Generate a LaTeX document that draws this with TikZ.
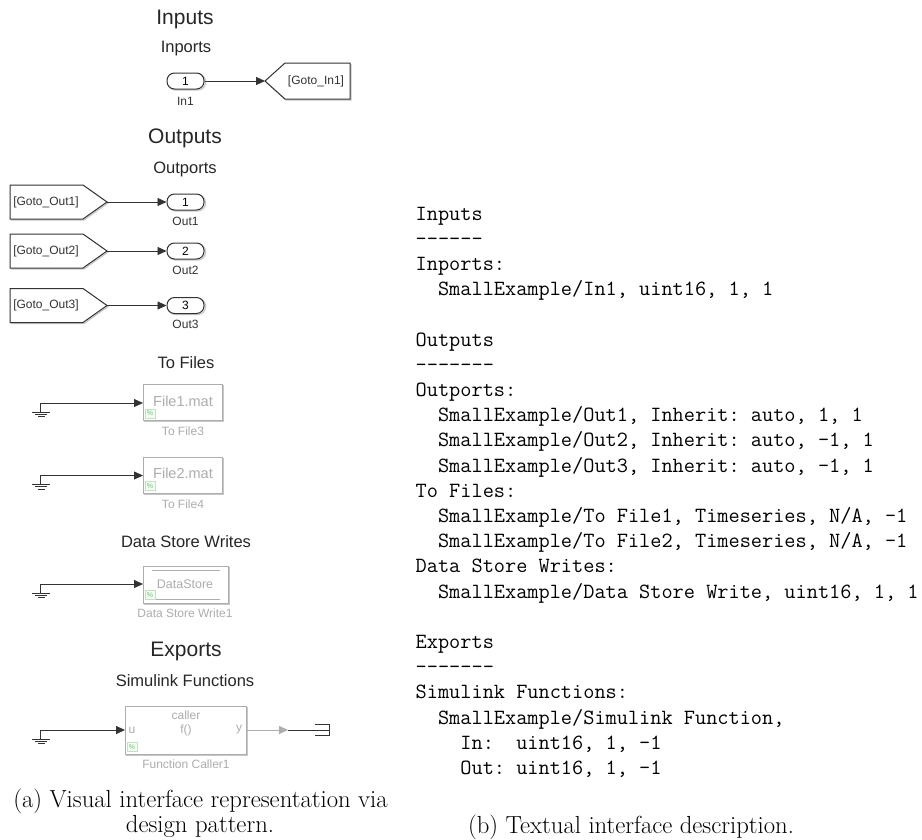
\documentclass[tikz,border=0pt]{standalone}
\usepackage{fontspec}
\setmainfont{Latin Modern Roman}
\newfontfamily\arialf{Liberation Sans}
\setmonofont{Latin Modern Mono}
\definecolor{fade}{gray}{0.68}
\definecolor{blk}{gray}{0.2}
\definecolor{shad}{gray}{0.78}
\usetikzlibrary{arrows.meta}
\tikzset{
 x=1pt,y=-1pt,
 title/.style={font=\arialf\fontsize{21}{21}\selectfont,text=black!85,inner sep=0},
 sub/.style={font=\arialf\fontsize{16.5}{17}\selectfont,text=black!85,inner sep=0},
 lab/.style={font=\arialf\fontsize{12}{12}\selectfont,text=blk,inner sep=0},
 flab/.style={font=\arialf\fontsize{12}{12}\selectfont,text=fade,inner sep=0},
 ftxt/.style={font=\arialf\fontsize{14.5}{15}\selectfont,text=fade,inner sep=0},
 fs/.style={font=\arialf\fontsize{12.5}{12.5}\selectfont,text=fade,inner sep=0},
 port/.style={draw=blk,line width=1pt,rounded corners=7.5pt,minimum width=37pt,minimum height=16pt,inner sep=0,fill=white,font=\arialf\fontsize{12}{12}\selectfont},
 fbox/.style={draw=fade,line width=1.1pt,fill=white,inner sep=0,anchor=north west},
 wire/.style={draw=blk,line width=.8pt},
 arr/.style={wire,-{Triangle[length=9pt,width=8pt]}},
 gotoline/.style={draw=blk,line width=1pt,line join=miter,fill=white},
 shadowline/.style={draw=shad,line width=1.2pt},
 code/.style={font=\ttfamily\fontsize{21.7}{21.7}\selectfont,anchor=base west,inner sep=0},
 capt/.style={font=\fontsize{24.7}{25}\selectfont,inner sep=0,anchor=base},
 pct/.style={draw=green!30!gray!35,fill=green!5,inner sep=.5pt,font=\arialf\fontsize{7}{7}\selectfont,text=green!30!gray!80,minimum width=10pt,minimum height=9pt}
}
\newcommand{\gnd}[2]{%
 \coordinate (#1) at (40,#2);
 \draw[wire] (40,#2) -- ++(0,9);
 \draw[draw=blk,line width=.8pt] (32,#2+9) -- ++(18,0) (35,#2+11.3) -- ++(12,0) (38,#2+13.7) -- ++(7,0);}
\begin{document}
\begin{tikzpicture}
\useasboundingbox[fill=white] (0,0) rectangle (922,839);
\node[title] at (185,19) {Inputs};
\node[sub] at (186,49) {Inports};
\draw[shadowline,rounded corners=7.5pt] (168,74) rectangle (205.5,90);
\node[port] (in1) at (185.5,81) {1};
\node[lab] at (185.5,101) {In1};
\draw[shadowline] (266,82) -- (286,100) -- (351,100) -- (351,64);
\draw[gotoline] (265,81) -- (285,63) -- (350,63) -- (350,99) -- (285,99) -- cycle;
\coordinate (gi) at (265,81);
\node[lab] (gitxt) at (316,81) {[Goto\_In1]};
\draw[arr] (in1) -- (gi);

\node[title] at (185,138) {Outputs};
\node[sub] at (185,169) {Outports};
\foreach \n/\y/\pl in {1/202/221,2/251/270,3/305.5/324}{
 \draw[shadowline] (11,\y+18) -- (84,\y+18) -- (108,\y+1) -- (84,\y-16);
 \draw[gotoline] (10,\y-17) -- (83,\y-17) -- (107,\y) -- (83,\y+17) -- (10,\y+17) -- cycle;
 \coordinate (go\n) at (107,\y);
 \node[lab] at (46,\y) {[Goto\_Out\n]};
 \draw[shadowline,rounded corners=7.5pt] (168,\y-7) rectangle (205.5,\y+9);
 \node[port] (out\n) at (185.5,\y) {\n};
 \node[lab] at (185.5,\pl) {Out\n};
 \draw[arr] (go\n) -- (out\n);
}

\node[sub] at (186,363) {To Files};
\foreach \n/\m/\y in {1/3/403,2/4/475.5}{
 \draw[shadowline] (144,\y+18.5) -- (223.5,\y+18.5) -- (223.5,\y-18);
 \node[fbox,minimum width=79pt,minimum height=36pt] (file\n) at (143,\y-19) {};
 \node[ftxt] at (183,\y-2) {File\n.mat};
 \node[pct] at (150,\y+10.5) {\%};
 \node[flab] at (183,\y+28.5) {To File\m};
 \gnd{gf\n}{\y}
 \draw[arr] (gf\n) -- (file\n.west |- gf\n);
}

\node[sub] at (186,542) {Data Store Writes};
\draw[shadowline] (144,604) -- (229.5,604) -- (229.5,567);
\node[fbox,minimum width=85pt,minimum height=37pt] (ds) at (143,566) {};
\draw[draw=fade,line width=.8pt] (152,570) -- (220,570) (152,599) -- (220,599);
\node[fs] at (185,584) {DataStore};
\node[pct] at (150,595) {\%};
\node[flab] at (185,613) {Data Store Write1};
\gnd{gd}{584}
\draw[arr] (gd) -- (ds.west |- gd);

\node[title] at (186,651) {Exports};
\node[sub] at (185,681) {Simulink Functions};
\draw[shadowline] (126,755.5) -- (247.5,755.5) -- (247.5,707);
\node[fbox,minimum width=121pt,minimum height=48pt] (fc) at (125,706) {};
\node[flab] at (186,715) {caller};
\node[flab] at (186,730) {f()};
\node[flab] at (132,730) {u};
\node[flab] at (239,730) {y};
\node[pct] at (132,747) {\%};
\node[flab] at (186,764) {Function Caller1};
\gnd{gc}{730}
\draw[arr] (gc) -- (fc.west |- gc);
\coordinate (tm) at (288,730);
\coordinate (te) at (329,730);
\draw[draw=fade,line width=.8pt,-{Triangle[length=9pt,width=8pt]}] (fc.east |- gc) -- (tm);
\draw[wire] (tm) -- (te);
\draw[draw=blk,line width=.8pt] (315,724.5) -- (329,724.5) -- (329,735.5) -- (315,735.5);

\node[capt] at (200.5,807) {(a) Visual interface representation via};
\node[capt] at (200,832) {design pattern.};
\node[capt] at (631,833) {(b) Textual interface description.};

\foreach \t [count=\i from 0] in {Inputs,------,Inports:,{\ \ SmallExample/In1, uint16, 1, 1},,Outputs,-------,Outports:,{\ \ SmallExample/Out1, Inherit: auto, 1, 1},{\ \ SmallExample/Out2, Inherit: auto, -1, 1},{\ \ SmallExample/Out3, Inherit: auto, -1, 1},To Files:,{\ \ SmallExample/To File1, Timeseries, N/A, -1},{\ \ SmallExample/To File2, Timeseries, N/A, -1},Data Store Writes:,{\ \ SmallExample/Data Store Write, uint16, 1, 1},,Exports,-------,Simulink Functions:,{\ \ SmallExample/Simulink Function,},{\ \ \ \ In: \ uint16, 1, -1},{\ \ \ \ Out: uint16, 1, -1}}{
 \node[code] at (415.5,{220+\i*25.2}) {\t};
}
\end{tikzpicture}
\end{document}
